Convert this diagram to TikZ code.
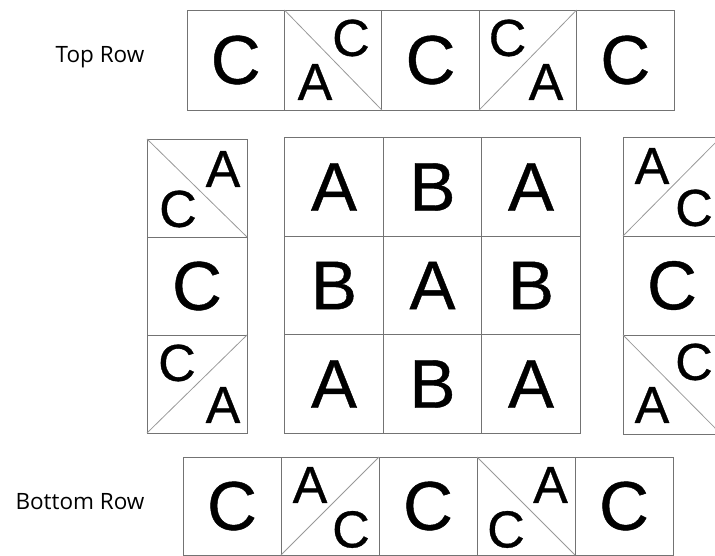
\documentclass[tikz,border=0pt]{standalone}
\usepackage{fontspec}
\setmainfont{Liberation Sans}
\newfontfamily\letterfont[FakeBold=0.6]{Liberation Sans}
\newfontfamily\labelfont{Open Sans}
\begin{document}
\begin{tikzpicture}[x=1pt,y=-1pt,
  cellbox/.style={draw=black!55, line width=0.8pt, inner sep=0pt, outer sep=0pt, font=\letterfont\fontsize{69}{69}\selectfont},
  tcell/.style={cellbox, minimum width=97.4pt, minimum height=100pt},
  lcell/.style={cellbox, minimum width=100pt, minimum height=98pt},
  gcell/.style={cellbox, minimum width=98.5pt, minimum height=98.5pt},
  rcell/.style={cellbox, minimum width=98pt, minimum height=99pt},
  bcell/.style={cellbox, minimum width=98pt, minimum height=98pt},
  small/.style={inner sep=0pt, font=\letterfont\fontsize{52}{52}\selectfont},
  diag/.style={draw=black!40, line width=0.8pt},
  lab/.style={inner sep=0pt, anchor=base, font=\labelfont\fontsize{22.5}{23}\selectfont}]
\useasboundingbox (0,0) rectangle (715,555);
\clip (0,0) rectangle (715,555);
% labels
\node[lab] (toplab) at (100,62) {Top Row};
\node[lab] (botlab) at (80,509) {Bottom Row};
% top row
\node[tcell] (t1) at (235.7,60) {C};
\node[tcell] (t2) at (333.1,60) {};
\node[tcell] (t3) at (430.5,60) {C};
\node[tcell] (t4) at (527.9,60) {};
\node[tcell] (t5) at (625.3,60) {C};
\draw[diag] (t2.north west) -- (t2.south east);
\node[small] (t2a) at (315,82) {A};
\node[small] (t2c) at (351,38) {C};
\draw[diag] (t4.south west) -- (t4.north east);
\node[small] (t4c) at (507.5,38) {C};
\node[small] (t4a) at (546,82) {A};
% left column
\node[lcell] (l1) at (197,188) {};
\node[lcell] (l2) at (197,286) {C};
\node[lcell] (l3) at (197,384) {};
\draw[diag] (l1.north west) -- (l1.south east);
\node[small] (l1a) at (223,169) {A};
\node[small] (l1c) at (178,209) {C};
\draw[diag] (l3.south west) -- (l3.north east);
\node[small] (l3c) at (177,363) {C};
\node[small] (l3a) at (223,405) {A};
% middle grid
\node[gcell] (g11) at (334,187) {A};
\node[gcell] (g12) at (432.5,187) {B};
\node[gcell] (g13) at (531,187) {A};
\node[gcell] (g21) at (334,285.5) {B};
\node[gcell] (g22) at (432.5,285.5) {A};
\node[gcell] (g23) at (531,285.5) {B};
\node[gcell] (g31) at (334,384) {A};
\node[gcell] (g32) at (432.5,384) {B};
\node[gcell] (g33) at (531,384) {A};
% right column
\node[rcell] (r1) at (672,186.5) {};
\node[rcell] (r2) at (672,285.5) {C};
\node[rcell] (r3) at (672,384.5) {};
\draw[diag] (r1.south west) -- (r1.north east);
\node[small] (r1a) at (652,166) {A};
\node[small] (r1c) at (694,208) {C};
\draw[diag] (r3.north west) -- (r3.south east);
\node[small] (r3c) at (694,362) {C};
\node[small] (r3a) at (652,405) {A};
% bottom row
\node[bcell] (b1) at (232,506) {C};
\node[bcell] (b2) at (330,506) {};
\node[bcell] (b3) at (428,506) {C};
\node[bcell] (b4) at (526,506) {};
\node[bcell] (b5) at (624,506) {C};
\draw[diag] (b2.south west) -- (b2.north east);
\node[small] (b2a) at (310,485) {A};
\node[small] (b2c) at (351,529.5) {C};
\draw[diag] (b4.north west) -- (b4.south east);
\node[small] (b4a) at (550.5,485) {A};
\node[small] (b4c) at (506,529.5) {C};
\end{tikzpicture}
\end{document}
